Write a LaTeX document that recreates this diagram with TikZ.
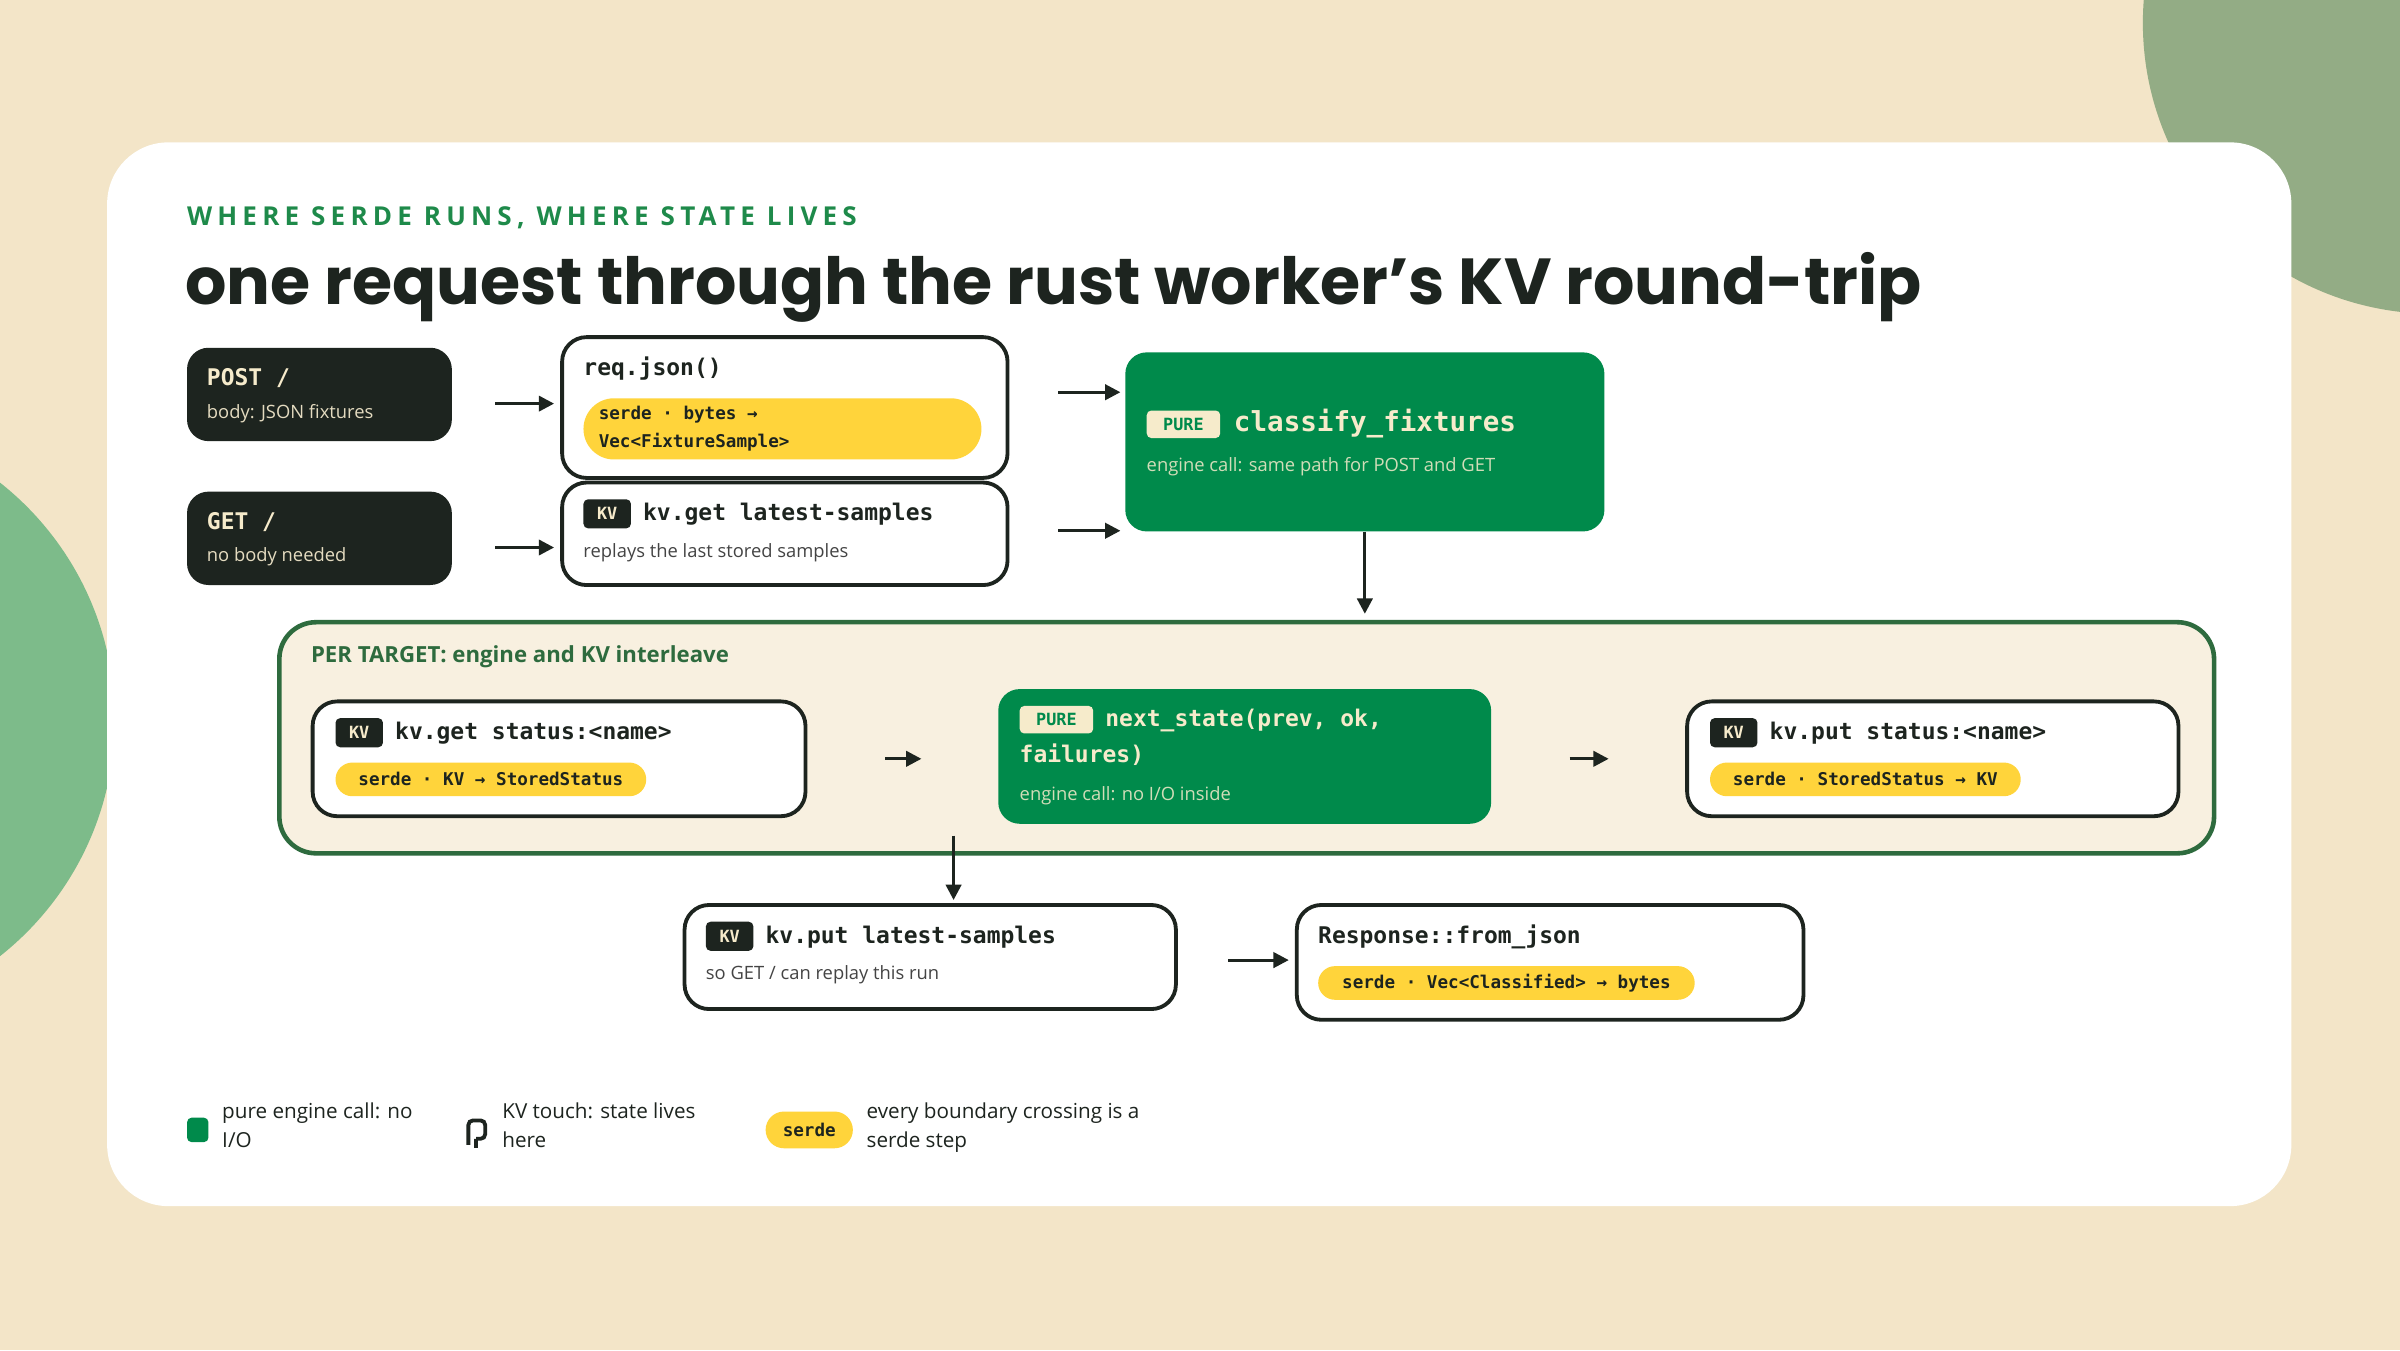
\documentclass[tikz,border=0pt]{standalone}
\usepackage{fontspec}
\setmainfont{Open Sans}
\setmonofont{DejaVu Sans Mono}
\newfontfamily\titlefont{Poppins}
\newfontfamily\capsfont[LetterSpace=20]{Open Sans}
\usetikzlibrary{arrows.meta}
\definecolor{bg}{HTML}{F3E5C8}
\definecolor{ink}{HTML}{1D241F}
\definecolor{grn}{HTML}{008A4B}
\definecolor{hgrn}{HTML}{1E8A4A}
\definecolor{dgrn}{HTML}{2E6B3E}
\definecolor{sage}{HTML}{93AC85}
\definecolor{lgrn}{HTML}{7DBB8A}
\definecolor{yel}{HTML}{FFD43B}
\definecolor{cream}{HTML}{F6EBCB}
\definecolor{pane}{HTML}{F8F0E0}
\definecolor{gtxt}{HTML}{444444}
\newcommand{\fs}[1]{\fontsize{#1bp}{#1bp}\selectfont}
\tikzset{
 x=1bp,y=-1bp,
 wbox/.style={draw=ink,line width=2.5bp,fill=white,rounded corners=16bp,anchor=north west,inner sep=0pt},
 dbox/.style={fill=ink,rounded corners=14bp,anchor=north west,inner sep=0pt},
 gbox/.style={fill=grn,rounded corners=14bp,anchor=north west,inner sep=0pt},
 pill/.style={fill=yel,rounded corners=11bp,anchor=north west,inner sep=0pt},
 badge/.style={rounded corners=3bp,anchor=north west,inner sep=0pt,font=\ttfamily\bfseries\fs{11}},
 kvb/.style={badge,fill=ink,text=cream,minimum width=31bp,minimum height=19bp},
 pureb/.style={badge,fill=cream,text=grn,minimum width=48bp,minimum height=18bp},
 mono/.style={anchor=west,inner sep=0pt,font=\ttfamily\bfseries\fs{15},text=ink},
 pmono/.style={anchor=west,inner sep=0pt,font=\ttfamily\bfseries\fs{11.5},text=ink},
 sub/.style={anchor=west,inner sep=0pt,font=\fs{12},text=gtxt},
 arr/.style={draw=ink,line width=2bp,-{Triangle[length=10bp,width=10bp]}},
}
\begin{document}
\begin{tikzpicture}
\useasboundingbox (0,0) rectangle (1568,882);
\fill[bg] (0,0) rectangle (1568,882);
\begin{scope}
\clip (0,0) rectangle (1568,882);
\fill[sage] (1590,15) circle (190);
\fill[lgrn] (-122,470) circle (197);
\end{scope}
\fill[white,rounded corners=40bp] (70,93) rectangle (1497,788);
\node[anchor=base west,inner sep=0pt,text=hgrn,font=\capsfont\bfseries\fs{17}] (kick) at (122,147) {WHERE SERDE RUNS, WHERE STATE LIVES};
\node[anchor=base west,inner sep=0pt,text=ink,font=\titlefont\bfseries\fs{42.5}] (title) at (121,199) {one request through the rust worker’s KV round-trip};

% top row
\node[dbox,minimum width=173bp,minimum height=61bp] (post) at (122,227) {};
\node[mono,text=cream] (postt) at (135,247) {POST /};
\node[sub,text=cream!85!gray] (posts) at (135,270) {body: JSON fixtures};
\node[dbox,minimum width=173bp,minimum height=61bp] (get) at (122,321) {};
\node[mono,text=cream] (gett) at (135,341) {GET /};
\node[sub,text=cream!85!gray] (gets) at (135,364) {no body needed};

\node[wbox,minimum width=291bp,minimum height=92bp] (req) at (366,219) {};
\node[mono] (reqt) at (381,241) {req.json()};
\node[pill,minimum width=260bp,minimum height=40bp,rounded corners=20bp] (reqp) at (381,260) {};
\node[pmono,anchor=west] (reqp1) at (391,271) {serde · bytes →};
\node[pmono,anchor=west] (reqp2) at (391,289) {Vec<FixtureSample>};

\node[wbox,minimum width=291bp,minimum height=67bp] (kvl) at (366,314) {};
\node[kvb] (kvlb) at (381,326) {KV};
\node[mono] (kvlt) at (420,336) {kv.get latest-samples};
\node[sub] (kvls) at (381,361) {replays the last stored samples};

\node[gbox,minimum width=313bp,minimum height=117bp] (cls) at (735,230) {};
\node[pureb] (clsb) at (749,268) {PURE};
\node[mono,text=cream,font=\ttfamily\bfseries\fs{18}] (clst) at (806,277) {classify\_fixtures};
\node[sub,text=cream!85!grn] (clss) at (749,305) {engine call: same path for POST and GET};

\draw[arr,shorten <=28bp,shorten >=4bp] ([yshift=-6bp]post.east) -- ([yshift=-6bp]post.east -| req.west);
\draw[arr,shorten <=28bp,shorten >=4bp] ([yshift=-6bp]get.east) -- ([yshift=-6bp]get.east -| kvl.west);
\draw[arr,shorten <=32bp,shorten >=3bp] ([yshift=10bp]req.east) -- ([yshift=10bp]req.east -| cls.west);
\draw[arr,shorten <=32bp,shorten >=3bp] ([yshift=2bp]kvl.east) -- ([yshift=2bp]kvl.east -| cls.west);

% per target
\node[draw=dgrn,line width=3bp,fill=pane,rounded corners=24bp,anchor=north west,minimum width=1264bp,minimum height=151bp,inner sep=0pt] (per) at (181,405) {};
\node[anchor=west,inner sep=0pt,text=dgrn,font=\bfseries\fs{14.5}] (perl) at (203,429) {PER TARGET: engine and KV interleave};
\draw[arr,shorten >=4bp] (cls.south) -- (cls.south |- per.north);

\node[wbox,minimum width=322bp,minimum height=75bp] (kgs) at (203,457) {};
\node[kvb] (kgsb) at (219,469) {KV};
\node[mono] (kgst) at (258,479) {kv.get status:<name>};
\node[pill,minimum width=203bp,minimum height=22bp] (kgsp) at (219,498) {};
\node[pmono,anchor=center] (kgspt) at (kgsp.center) {serde · KV → StoredStatus};

\node[gbox,minimum width=322bp,minimum height=88bp] (nxt) at (652,450) {};
\node[pureb] (nxtb) at (666,461) {PURE};
\node[mono,text=cream] (nxt1) at (722,471) {next\_state(prev, ok,};
\node[mono,text=cream] (nxt2) at (666,493) {failures)};
\node[sub,text=cream!85!grn] (nxts) at (666,520) {engine call: no I/O inside};

\node[wbox,minimum width=321bp,minimum height=75bp] (kps) at (1101,457) {};
\node[kvb] (kpsb) at (1117,469) {KV};
\node[mono] (kpst) at (1156,479) {kv.put status:<name>};
\node[pill,minimum width=203bp,minimum height=22bp] (kpsp) at (1117,498) {};
\node[pmono,anchor=center] (kpspt) at (kpsp.center) {serde · StoredStatus → KV};

\draw[arr,shorten <=51bp,shorten >=50bp] (kgs.east) -- (kgs.east -| nxt.west);
\draw[arr,shorten <=51bp,shorten >=50bp] (nxt.east |- kps.west) -- (kps.west);

% bottom
\node[wbox,minimum width=321bp,minimum height=68bp] (kpl) at (446,590) {};
\node[kvb] (kplb) at (461,602) {KV};
\node[mono] (kplt) at (500,612) {kv.put latest-samples};
\node[sub] (kpls) at (461,637) {so GET / can replay this run};

\node[wbox,minimum width=331bp,minimum height=75bp] (rsp) at (846,590) {};
\node[mono] (rspt) at (861,612) {Response::from\_json};
\node[pill,minimum width=246bp,minimum height=22bp] (rspp) at (861,631) {};
\node[pmono,anchor=center] (rsppt) at (rspp.center) {serde · Vec<Classified> → bytes};

\coordinate (dn) at (623,546);
\draw[arr,shorten >=2bp] (dn) -- (dn |- kpl.north);
\draw[arr,shorten <=33bp,shorten >=4bp] ([yshift=-2bp]kpl.east) -- ([yshift=-2bp]kpl.east -| rsp.west);

% legend
\node[fill=grn,rounded corners=3bp,minimum width=14bp,minimum height=16bp,inner sep=0pt,anchor=north west] (lg1) at (122,730) {};
\node[anchor=north west,inner sep=0pt,align=left,font=\fs{13.5},text=ink] (lg1t) at (145,720) {pure engine call: no\\[6bp]I/O};
\draw[ink,line width=2.5bp,rounded corners=3bp] (306,748) -- (306,732) -- (317,732) -- (317,744) -- (311,744) (311,744) -- (311,750);
\coordinate (lg2) at (311,740);
\node[anchor=north west,inner sep=0pt,align=left,font=\fs{13.5},text=ink] (lg2t) at (328,720) {KV touch: state lives\\[6bp]here};
\node[pill,minimum width=57bp,minimum height=24bp,rounded corners=12bp] (lg3) at (500,726) {};
\node[pmono,anchor=center] (lg3t) at (lg3.center) {serde};
\node[anchor=north west,inner sep=0pt,align=left,font=\fs{13.5},text=ink] (lg3x) at (566,720) {every boundary crossing is a\\[6bp]serde step};
\end{tikzpicture}
\end{document}
